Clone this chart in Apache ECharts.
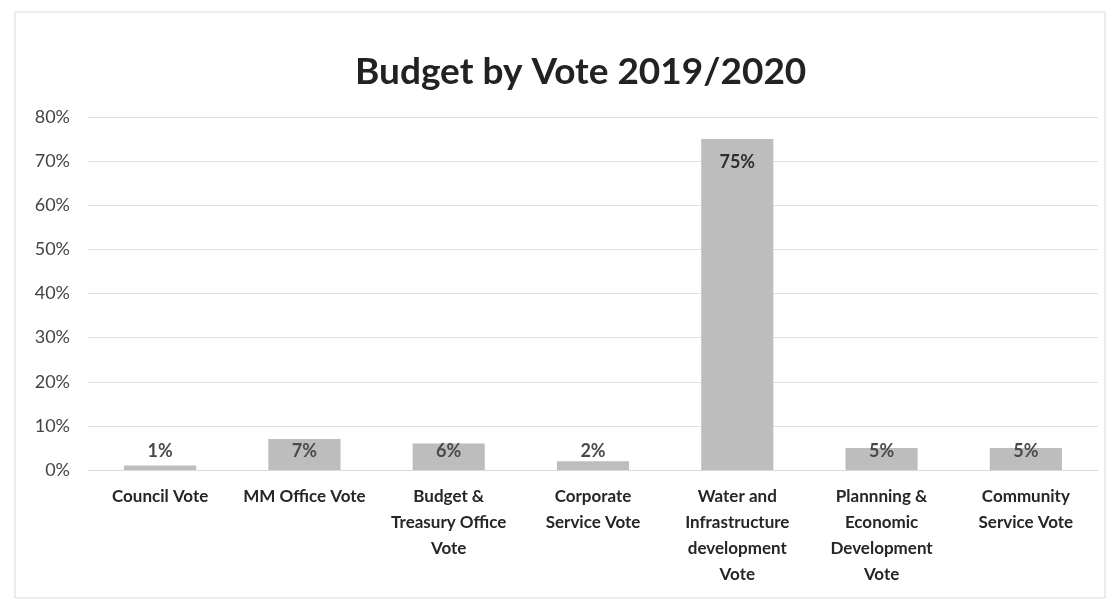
<!DOCTYPE html>
<html>
<head>
<meta charset="utf-8">
<script src="https://cdn.jsdelivr.net/npm/echarts@6/dist/echarts.min.js"></script>
<style>
  html, body { margin: 0; padding: 0; background: #ffffff; }
  #chart { width: 1119px; height: 604px; }
</style>
</head>
<body>
<div id="chart"></div>
<script>
// Budget share per vote, 2019/2020 (percent of total)
const chartTitle = 'Budget by Vote 2019/2020';
const categories = [
  'Council Vote',
  'MM Office Vote',
  'Budget &\nTreasury Office\nVote',
  'Corporate\nService Vote',
  'Water and\nInfrastructure\ndevelopment\nVote',
  'Plannning &\nEconomic\nDevelopment\nVote',
  'Community\nService Vote'
];
const sharePercent = [1, 7, 6, 2, 75, 5, 5];
const yTicks = { min: 0, max: 80, interval: 10 };

const FONT = 'Lato, "Open Sans", "Liberation Sans", sans-serif';

const chart = echarts.init(document.getElementById('chart'), null, { renderer: 'canvas' });

const barData = sharePercent.map(function (v) {
  // the tall bar carries its label inside the top; the short ones sit just above the baseline
  const big = v > 20;
  return {
    value: v,
    label: big
      ? { position: 'insideTop', distance: 14, color: '#2e2e2e' }
      : { position: 'insideBottom', distance: 10 }
  };
});

chart.setOption({
  backgroundColor: '#ffffff',
  animation: false,
  title: {
    text: chartTitle,
    left: 350,
    top: 49,
    textStyle: { fontFamily: FONT, fontSize: 37, fontWeight: 'bold', color: '#222222' }
  },
  graphic: [{
    type: 'rect',
    shape: { x: 15, y: 12, width: 1090, height: 586 },
    style: { fill: 'none', stroke: '#d9d9d9', lineWidth: 1 },
    silent: true
  }],
  grid: { left: 88, right: 21, top: 117, bottom: 134, containLabel: false },
  xAxis: {
    type: 'category',
    data: categories,
    axisLine: { show: true, lineStyle: { color: '#d9d9d9', width: 1 } },
    axisTick: { show: false },
    axisLabel: {
      interval: 0,
      margin: 14,
      fontFamily: FONT,
      fontSize: 17,
      fontWeight: 'bold',
      color: '#262626',
      lineHeight: 26,
      verticalAlign: 'top'
    }
  },
  yAxis: {
    type: 'value',
    min: yTicks.min,
    max: yTicks.max,
    interval: yTicks.interval,
    axisLine: { show: false },
    axisTick: { show: false },
    splitLine: { lineStyle: { color: '#e0e0e0', width: 1 } },
    axisLabel: {
      margin: 18,
      formatter: '{value}%',
      fontFamily: FONT,
      fontSize: 18,
      color: '#444444'
    }
  },
  series: [{
    type: 'bar',
    data: barData,
    barWidth: '50%',
    itemStyle: { color: '#bdbdbd' },
    label: {
      show: true,
      formatter: '{c}%',
      fontFamily: FONT,
      fontSize: 18,
      fontWeight: 'bold',
      color: '#4a4a4a'
    }
  }]
});
</script>
</body>
</html>
